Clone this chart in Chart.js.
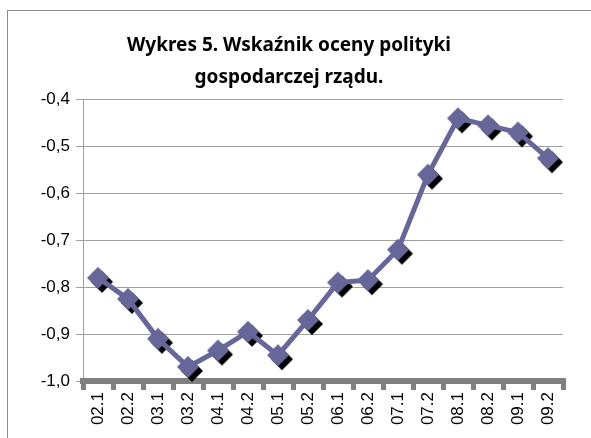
<html>
  <head>
    <script src="https://cdn.jsdelivr.net/npm/chart.js@4"></script>
  </head>
  <body>
    <style>
      body{ margin: 0; background: #fff; }
      #box{ width: 591px; height: 438px; }
    </style>
    <div id="box"><canvas id="graph"></canvas></div>
    <script>
      var labels = ['02.1','02.2','03.1','03.2','04.1','04.2','05.1','05.2','06.1','06.2','07.1','07.2','08.1','08.2','09.1','09.2'];
      var values = [-0.78, -0.825, -0.91, -0.97, -0.935, -0.895, -0.945, -0.87, -0.79, -0.785, -0.72, -0.56, -0.44, -0.455, -0.47, -0.525];
      var titleLines = ['Wykres 5. Wskaźnik oceny polityki', 'gospodarczej rządu.'];
      var yMin = -1.0, yMax = -0.4, yStep = 0.1;

      var lineColor = '#666699';

      // diamond marker images, the shadow one is shifted down-right
      function diamond(color, dx, dy){
        var c = document.createElement('canvas');
        c.width = 40; c.height = 40;
        var g = c.getContext('2d');
        var cx = 20 + dx, cy = 20 + dy, r = 11;
        g.fillStyle = color;
        g.beginPath();
        g.moveTo(cx, cy - r);
        g.lineTo(cx + r, cy);
        g.lineTo(cx, cy + r);
        g.lineTo(cx - r, cy);
        g.closePath();
        g.fill();
        return c;
      }
      var markMain = diamond(lineColor, 0, 0);
      var markShadow = diamond('#000', 4, 4);

      var frame = {
        id: 'frame',
        beforeDraw: function(chart){
          var ctx = chart.ctx;
          ctx.save();
          ctx.strokeStyle = '#8c8c8c';
          ctx.lineWidth = 1;
          ctx.strokeRect(7.5, 10.5, 700, 600);
          ctx.restore();
        }
      };

      var chartConfig = {
        type: 'line',
        data: {
          labels: labels,
          datasets: [
            {data: values, showLine: false, pointStyle: markShadow, order: 2, clip: false},
            {data: values, borderColor: lineColor, borderWidth: 5, pointStyle: markMain, order: 1, clip: false}
          ]
        },
        options: {
          responsive: true,
          maintainAspectRatio: false,
          animation: false,
          layout: { padding: {left: 15, right: 28, top: 0, bottom: 0} },
          plugins: {
            legend: { display: false },
            tooltip: { enabled: false },
            title: {
              display: true,
              text: titleLines,
              color: '#000',
              font: { family: 'Noto Sans', size: 19, weight: 'bold', lineHeight: 1.7 },
              padding: { top: 29, bottom: 6 }
            }
          },
          scales: {
            y: {
              min: yMin,
              max: yMax,
              afterFit: function(s){ s.width = 68; },
              ticks: {
                stepSize: yStep,
                color: '#000',
                padding: 6,
                font: { family: 'Liberation Sans', size: 17 },
                callback: function(v){ return v.toFixed(1).replace('.', ','); }
              },
              grid: { color: '#a0a0a0', lineWidth: 1, tickLength: 7 },
              border: { color: '#a0a0a0', width: 1 }
            },
            x: {
              offset: true,
              afterFit: function(s){ s.height = 57; },
              ticks: {
                color: '#000',
                maxRotation: 90,
                minRotation: 90,
                padding: 2,
                font: { family: 'Liberation Sans', size: 17 }
              },
              grid: { offset: true, drawOnChartArea: false, color: '#808080', lineWidth: 5, tickLength: 9 },
              border: { color: '#808080', width: 6 }
            }
          }
        },
        plugins: [frame]
      };
      var graph = new Chart(document.getElementById('graph'), chartConfig);
    </script>
  </body>
</html>
